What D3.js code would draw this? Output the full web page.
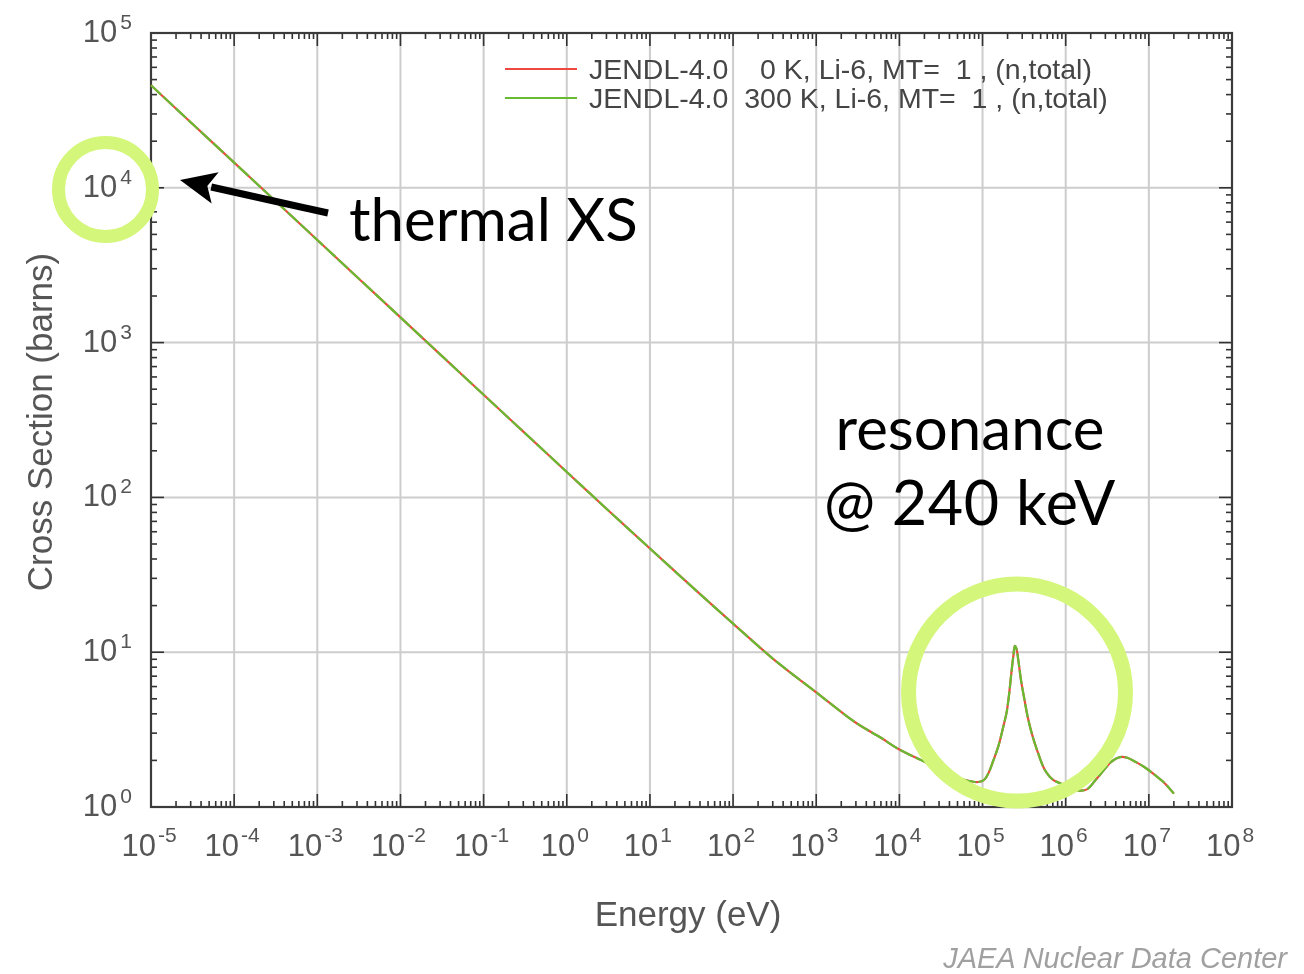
<!DOCTYPE html>
<html>
<head>
<meta charset="utf-8">
<script src="https://cdn.jsdelivr.net/npm/d3@7"></script>
<style>
  body { margin: 0; background: #fff; }
  svg { display: block; }
</style>
</head>
<body>
<svg id="chart" width="1304" height="974"></svg>
<script>
// Li-6 total neutron cross section, JENDL-4.0 (energy in eV, cross section in barns)
const energy = [
  1e-5, 3e-5, 1e-4, 3e-4, 1e-3, 3e-3, 1e-2, 3e-2, 1e-1, 3e-1,
  1, 3, 10, 30, 100, 300, 1000, 3000, 6000, 1e4,
  2.4e4, 4e4, 6e4, 8.9e4, 1.05e5, 1.18e5, 1.35e5, 1.56e5, 1.8e5, 1.95e5,
  2.1e5, 2.2e5, 2.35e5, 2.45e5, 2.55e5, 2.7e5, 2.9e5, 3.2e5, 3.5e5, 3.9e5,
  4.5e5, 5.6e5, 7e5, 1e6, 1.4e6, 1.8e6, 2.3e6, 2.8e6, 3.5e6, 4.5e6,
  5.5e6, 7e6, 9e6, 1.2e7, 1.5e7, 2e7
];
const sigma0K = [
  46000, 26500, 14550, 8400, 4600, 2655, 1455, 840, 460, 266,
  146, 84.5, 46.8, 27.3, 15.3, 9.1, 5.5, 3.5, 2.8, 2.35,
  1.87, 1.62, 1.5, 1.45, 1.5, 1.66, 2.0, 2.5, 3.4, 4.1,
  5.5, 7.0, 9.5, 11.0, 10.6, 8.8, 6.6, 4.9, 3.8, 3.0,
  2.35, 1.74, 1.5, 1.38, 1.28, 1.3, 1.5, 1.7, 1.95, 2.1,
  2.08, 1.95, 1.8, 1.6, 1.45, 1.22
];
const sigma300K = [
  46000, 26500, 14550, 8400, 4600, 2655, 1455, 840, 460, 266,
  146, 84.5, 46.8, 27.3, 15.3, 9.1, 5.5, 3.5, 2.8, 2.35,
  1.87, 1.62, 1.5, 1.45, 1.5, 1.66, 2.0, 2.5, 3.4, 4.1,
  5.5, 7.0, 9.5, 11.0, 10.6, 8.8, 6.6, 4.9, 3.8, 3.0,
  2.35, 1.74, 1.5, 1.38, 1.28, 1.3, 1.5, 1.7, 1.95, 2.1,
  2.08, 1.95, 1.8, 1.6, 1.45, 1.22
];

const xExponents = ["-5", "-4", "-3", "-2", "-1", "0", "1", "2", "3", "4", "5", "6", "7", "8"];
const yExponents = ["0", "1", "2", "3", "4", "5"];
const seriesNames = [
  "JENDL-4.0    0 K, Li-6, MT=  1 , (n,total)",
  "JENDL-4.0  300 K, Li-6, MT=  1 , (n,total)"
];
const seriesColors = ["#ee4a40", "#66bb33"];

const svg = d3.select("#chart");
const plot = { left: 151, right: 1232, top: 33, bottom: 807 };

const x = d3.scaleLog().domain([1e-5, 1e8]).range([plot.left, plot.right]);
const y = d3.scaleLog().domain([1, 1e5]).range([plot.bottom, plot.top]);

// soft rendering of the plot itself
const defs = svg.append("defs");
defs.append("filter").attr("id", "soft")
  .append("feGaussianBlur").attr("stdDeviation", 0.6);

const g = svg.append("g").attr("filter", "url(#soft)");

const xDecades = xExponents.map(e => Math.pow(10, +e));
const yDecades = yExponents.map(e => Math.pow(10, +e));

// grid
g.append("g").selectAll("line").data(xDecades.slice(1, -1)).join("line")
  .attr("x1", d => x(d)).attr("x2", d => x(d))
  .attr("y1", plot.top).attr("y2", plot.bottom)
  .attr("stroke", "#cdcdcd").attr("stroke-width", 2);
g.append("g").selectAll("line").data(yDecades.slice(1, -1)).join("line")
  .attr("y1", d => y(d)).attr("y2", d => y(d))
  .attr("x1", plot.left).attr("x2", plot.right)
  .attr("stroke", "#cdcdcd").attr("stroke-width", 2);

// tick marks (major at decades, minor at 2..9)
function tickValues(decades) {
  const out = [];
  decades.forEach((d, i) => {
    out.push({ v: d, major: true });
    if (i < decades.length - 1) for (let k = 2; k <= 9; k++) out.push({ v: k * d, major: false });
  });
  return out;
}
const xt = tickValues(xDecades), yt = tickValues(yDecades);
const tickG = g.append("g").attr("stroke", "#333").attr("stroke-width", 1.6);
tickG.selectAll(".xb").data(xt).join("line")
  .attr("x1", d => x(d.v)).attr("x2", d => x(d.v))
  .attr("y1", plot.bottom).attr("y2", d => plot.bottom - (d.major ? 13 : 6));
tickG.selectAll(".xt").data(xt).join("line")
  .attr("x1", d => x(d.v)).attr("x2", d => x(d.v))
  .attr("y1", plot.top).attr("y2", d => plot.top + (d.major ? 13 : 6));
tickG.selectAll(".yl").data(yt).join("line")
  .attr("y1", d => y(d.v)).attr("y2", d => y(d.v))
  .attr("x1", plot.left).attr("x2", d => plot.left + (d.major ? 13 : 6));
tickG.selectAll(".yr").data(yt).join("line")
  .attr("y1", d => y(d.v)).attr("y2", d => y(d.v))
  .attr("x1", plot.right).attr("x2", d => plot.right - (d.major ? 13 : 6));

// frame
g.append("rect")
  .attr("x", plot.left).attr("y", plot.top)
  .attr("width", plot.right - plot.left).attr("height", plot.bottom - plot.top)
  .attr("fill", "none").attr("stroke", "#3a3a3a").attr("stroke-width", 2.2);

// curves
const line = d3.line().x(d => x(d[0])).y(d => y(d[1])).curve(d3.curveCatmullRom.alpha(0.5));
g.append("path").datum(energy.map((e, i) => [e, sigma0K[i]]))
  .attr("d", line).attr("fill", "none")
  .attr("stroke", seriesColors[0]).attr("stroke-width", 2.2);
g.append("path").datum(energy.map((e, i) => [e, sigma300K[i]]))
  .attr("d", line).attr("fill", "none")
  .attr("stroke", seriesColors[1]).attr("stroke-width", 2.2)
  .attr("stroke-dasharray", "14,3");

// tick labels
const labelFont = "'Liberation Sans', Arial, Helvetica, sans-serif";
const xl = g.append("g").attr("font-family", labelFont).attr("fill", "#555");
xExponents.forEach((e, i) => {
  const t = xl.append("text").attr("x", x(xDecades[i]) - 2).attr("y", 856)
    .attr("text-anchor", "middle").attr("font-size", 31);
  t.append("tspan").text("10");
  t.append("tspan").attr("dx", 2).attr("dy", -14).attr("font-size", 21).text(e);
});
const yl = g.append("g").attr("font-family", labelFont).attr("fill", "#555");
yExponents.forEach((e, i) => {
  const t = yl.append("text").attr("x", 132).attr("y", y(yDecades[i]) + 9)
    .attr("text-anchor", "end").attr("font-size", 31);
  t.append("tspan").text("10");
  t.append("tspan").attr("dx", 3).attr("dy", -13).attr("font-size", 21).text(e);
});

// axis titles
g.append("text").attr("x", 688).attr("y", 926).attr("text-anchor", "middle")
  .attr("font-family", labelFont).attr("font-size", 35).attr("fill", "#555")
  .text("Energy (eV)");
g.append("text").attr("transform", "translate(52,422) rotate(-90)")
  .attr("text-anchor", "middle")
  .attr("font-family", labelFont).attr("font-size", 35).attr("fill", "#555")
  .text("Cross Section (barns)");

// legend
const lg = g.append("g");
seriesNames.forEach((name, i) => {
  const yy = 69 + i * 29;
  lg.append("line").attr("x1", 505).attr("x2", 577).attr("y1", yy).attr("y2", yy)
    .attr("stroke", seriesColors[i]).attr("stroke-width", 2);
  lg.append("text").attr("x", 589).attr("y", yy + 10)
    .attr("font-family", labelFont).attr("font-size", 28.5).attr("fill", "#444")
    .style("white-space", "pre").text(name);
});

// credit
g.append("text").attr("x", 1287).attr("y", 968).attr("text-anchor", "end")
  .attr("font-family", labelFont).attr("font-style", "italic")
  .attr("font-size", 29).attr("fill", "#a0a0a0")
  .text("JAEA Nuclear Data Center");

// annotations
const ann = svg.append("g");
const ringColor = "#d4f67b";
ann.append("circle").attr("cx", 105.5).attr("cy", 189.5).attr("r", 47)
  .attr("fill", "none").attr("stroke", ringColor).attr("stroke-width", 13);
ann.append("circle").attr("cx", 1017).attr("cy", 692.5).attr("r", 108.5)
  .attr("fill", "none").attr("stroke", ringColor).attr("stroke-width", 15);

// arrow pointing at the thermal value
const tail = [328, 213], tip = [180, 180];
const dx = tip[0] - tail[0], dy = tip[1] - tail[1];
const len = Math.hypot(dx, dy), ux = dx / len, uy = dy / len;
const headLen = 36, headHalf = 16;
const bx = tip[0] - ux * headLen, by = tip[1] - uy * headLen;
ann.append("line").attr("x1", tail[0]).attr("y1", tail[1])
  .attr("x2", bx + ux * 4).attr("y2", by + uy * 4)
  .attr("stroke", "#000").attr("stroke-width", 7);
ann.append("polygon")
  .attr("points", [
    tip,
    [bx - uy * headHalf, by + ux * headHalf],
    [bx + ux * 8, by + uy * 8],
    [bx + uy * headHalf, by - ux * headHalf]
  ].map(p => p.join(",")).join(" "))
  .attr("fill", "#000");

const annFont = "Lato, 'Open Sans', sans-serif";
ann.append("text").attr("x", 349).attr("y", 241)
  .attr("font-family", annFont).attr("font-size", 60).attr("fill", "#000")
  .text("thermal XS");
ann.append("text").attr("x", 970).attr("y", 450).attr("text-anchor", "middle")
  .attr("font-family", annFont).attr("font-size", 60).attr("fill", "#000")
  .text("resonance");
ann.append("text").attr("x", 970).attr("y", 525).attr("text-anchor", "middle")
  .attr("font-family", annFont).attr("font-size", 61).attr("fill", "#000")
  .attr("letter-spacing", 0.6)
  .text("@ 240 keV");
</script>
</body>
</html>
